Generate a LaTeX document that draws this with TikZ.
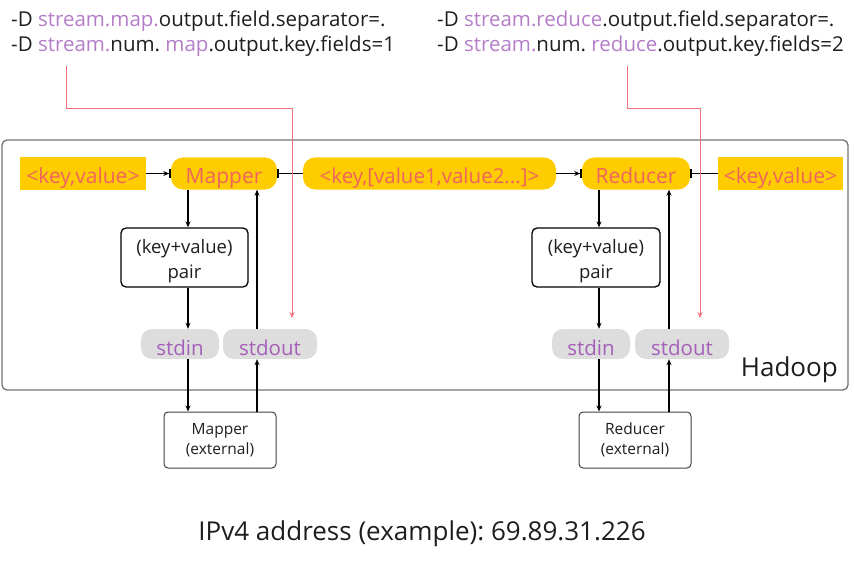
\documentclass[tikz,border=0pt]{standalone}
\usepackage{fontspec}
\setmainfont{Open Sans}
\usetikzlibrary{arrows.meta,calc}
\definecolor{ylw}{RGB}{255,204,0}
\definecolor{coral}{RGB}{240,100,95}
\definecolor{lav}{RGB}{180,125,200}
\definecolor{purp}{RGB}{165,95,185}
\definecolor{gfill}{RGB}{221,221,221}
\definecolor{redl}{RGB}{245,110,120}
\definecolor{txt}{RGB}{30,30,30}
\frenchspacing
\begin{document}
\begin{tikzpicture}[x=1pt,y=-1pt,
  yel/.style={fill=ylw, text=coral, font=\fontsize{21}{22}\selectfont, inner sep=0pt, minimum height=32, text height=20, text depth=0},
  ybox/.style={yel},
  ypill/.style={yel, rounded corners=12},
  pairbox/.style={draw, line width=1.3pt, rounded corners=5, minimum width=127, minimum height=59, inner sep=0pt},
  pairtxt/.style={align=center, inner sep=0pt, font=\fontsize{18.5}{25}\selectfont, text=txt},
  gpill/.style={fill=gfill, rounded corners=11, minimum height=30, inner sep=0pt, text=purp, font=\fontsize{20.5}{22}\selectfont, text height=22, text depth=0},
  extbox/.style={draw=black!75, line width=1pt, rounded corners=4, minimum width=112, minimum height=56, align=center, inner sep=0pt, font=\fontsize{15.5}{20}\selectfont, text=txt},
  arr/.style={line width=1.1pt, -{Stealth[length=6pt,width=5pt]}},
  arrbar/.style={line width=1.1pt, -{Stealth[length=6pt,width=5pt] Bar[width=9pt,line width=1.6pt]}},
  justbar/.style={line width=1.1pt, -{Bar[width=9pt,line width=1.6pt]}},
  redarr/.style={draw=redl, line width=0.9pt, -{Stealth[length=6pt,width=5pt]}},
  toptxt/.style={anchor=base west, inner sep=0pt, text=txt, font=\fontsize{20.5}{22}\selectfont}
]
\useasboundingbox (0,0) rectangle (854,567);
% Hadoop container
\node[draw=black!55, line width=1.3pt, rounded corners=5, minimum width=846, minimum height=250, inner sep=0pt] (hadoop) at (425,265) {};
\node[anchor=south east, inner sep=0pt, font=\fontsize{26}{28}\selectfont, text=txt] (hlabel) at (838,383) {Hadoop};
% top texts
\node[toptxt] (t1) at (11,27) {-D \textcolor{lav}{stream.map.}output.field.separator=.};
\node[toptxt] (t2) at (11,52) {-D \textcolor{lav}{stream.}num. \textcolor{lav}{map}.output.key.fields=1};
\node[toptxt] (t3) at (437,27) {-D \textcolor{lav}{stream.reduce}.output.field.separator=.};
\node[toptxt] (t4) at (437,52) {-D \textcolor{lav}{stream.}num. \textcolor{lav}{reduce}.output.key.fields=2};
% main row
\node[ybox, minimum width=126] (kvL) at (83,173.5) {<key,value>};
\node[ypill, minimum width=106] (mapper) at (224,173.5) {Mapper};
\node[ypill, minimum width=253] (mid) at (429.5,173.5) {\fontsize{20.5}{22}\selectfont <key,[value1,value2...]>};
\node[ypill, minimum width=108] (reducer) at (636,173.5) {Reducer};
\node[ybox, minimum width=125] (kvR) at (780.5,173.5) {<key,value>};
% left column
\node[pairbox] (pairL) at (184.5,257.5) {};
\node[pairtxt] (pairLt) at (184.5,261) {(key+value)\\pair};
\node[gpill, minimum width=78] (stdinL) at (180,344) {stdin};
\node[gpill, minimum width=94] (stdoutL) at (270,344) {stdout};
\node[extbox] (extL) at (220,440) {Mapper\\(external)};
% right column
\node[pairbox, minimum width=128] (pairR) at (596,257.5) {};
\node[pairtxt] (pairRt) at (596,261) {(key+value)\\pair};
\node[gpill, minimum width=78] (stdinR) at (591,344) {stdin};
\node[gpill, minimum width=94] (stdoutR) at (682,344) {stdout};
\node[extbox] (extR) at (635,440) {Reducer\\(external)};
% bottom text
\node[inner sep=0pt, font=\fontsize{26}{30}\selectfont, text=txt] (ip) at (422,534) {IPv4 address (example): 69.89.31.226};
% row connectors
\draw[arrbar] (kvL.east) -- (mapper.west);
\draw[justbar] (mid.west) -- (mapper.east);
\draw[arrbar] (mid.east) -- (reducer.west);
\draw[justbar] (kvR.west) -- (reducer.east);
% left vertical
\draw[arr] (mapper.south -| 188,0) -- (pairL.north -| 188,0);
\draw[arr] (pairL.south -| 188,0) -- (stdinL.north -| 188,0);
\draw[arr] (stdinL.south -| 188,0) -- (extL.north -| 188,0);
\draw[arr] (extL.north -| 257,0) -- (stdoutL.south -| 257,0);
\draw[arr] (stdoutL.north -| 257,0) -- (mapper.south -| 257,0);
% right vertical
\draw[arr] (reducer.south -| 599,0) -- (pairR.north -| 599,0);
\draw[arr] (pairR.south -| 599,0) -- (stdinR.north -| 599,0);
\draw[arr] (stdinR.south -| 599,0) -- (extR.north -| 599,0);
\draw[arr] (extR.north -| 669,0) -- (stdoutR.south -| 669,0);
\draw[arr] (stdoutR.north -| 669,0) -- (reducer.south -| 669,0);
% red lines
\coordinate (rsL) at (66,66);
\coordinate (reL) at (292,318);
\coordinate (rsR) at (627,66);
\coordinate (reR) at (700,318);
\draw[redarr] (rsL) |- (reL |- 0,108) -- (reL);
\draw[redarr] (rsR) |- (reR |- 0,108) -- (reR);
\end{tikzpicture}
\end{document}
